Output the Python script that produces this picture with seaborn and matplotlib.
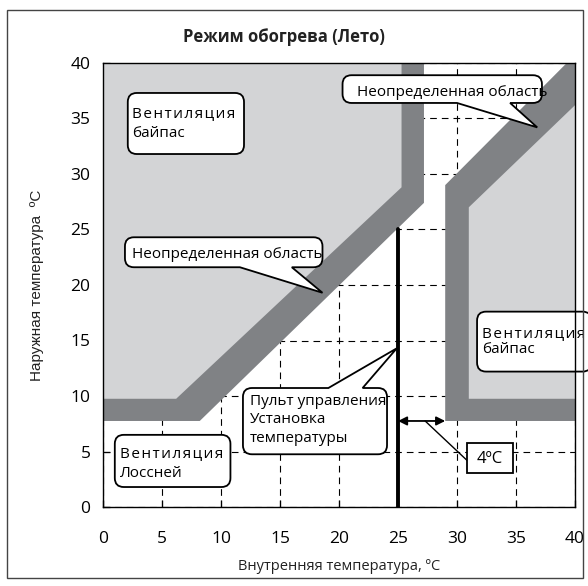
import matplotlib
matplotlib.use("Agg")
import matplotlib.pyplot as plt
from matplotlib.path import Path
from matplotlib.patches import PathPatch, Rectangle
import seaborn as sns

sns.set_theme(style="white")
plt.rcParams["font.family"] = ["Open Sans", "DejaVu Sans"]

# Temperature scale, °C
ticks = [0, 5, 10, 15, 20, 25, 30, 35, 40]
tick_labels = [str(t) for t in ticks]

# Set point on the remote controller and the dead band to the right of it
setpoint = 25
deadband = 4
setpoint_x = [setpoint, setpoint]
setpoint_y = [0, 25]

# Left zone: bypass ventilation (light) inside an undefined band (dark)
bypass_left_x = [0, 25.3, 25.3, 6.2, 0]
bypass_left_y = [40, 40, 28.8, 9.75, 9.75]
undef_left_x = [0, 27.2, 27.2, 8.2, 0]
undef_left_y = [40, 40, 27.4, 7.75, 7.75]

# Right zone: starts at set point + dead band
undef_right_x = [setpoint + deadband, 40, 40, 39.3, setpoint + deadband]
undef_right_y = [7.75, 7.75, 40, 40, 29.0]
bypass_right_x = [31.0, 40, 40, 31.0]
bypass_right_y = [9.75, 9.75, 36.2, 27.0]

LIGHT = "#d3d4d6"
DARK = "#808285"

fig = plt.figure(figsize=(5.88, 5.86), dpi=100)
ax = fig.add_axes([103 / 588, 1 - 507 / 586, 472 / 588, 444 / 586])

ax.set_xlim(0, 40)
ax.set_ylim(0, 40)
ax.set_xticks(ticks, tick_labels)
ax.set_yticks(ticks, tick_labels)
ax.set_axisbelow(True)
ax.grid(True, color="black", linestyle=(0, (6, 4.5)), linewidth=0.8)

ax.fill(undef_left_x, undef_left_y, color=DARK, lw=0, zorder=1)
ax.fill(bypass_left_x, bypass_left_y, color=LIGHT, lw=0, zorder=1.1)
ax.fill(undef_right_x, undef_right_y, color=DARK, lw=0, zorder=1)
ax.fill(bypass_right_x, bypass_right_y, color=LIGHT, lw=0, zorder=1.1)

# Dead band arrow and its label
ax.annotate("", xy=(setpoint, 7.75), xytext=(setpoint + deadband, 7.75),
            arrowprops=dict(arrowstyle="<|-|>", color="black", lw=1.3,
                            shrinkA=0, shrinkB=0, mutation_scale=13),
            zorder=3)
ax.plot([27.3, 30.85], [7.75, 4.2], color="black", lw=1.0, zorder=3)
ax.add_patch(Rectangle((30.85, 3.06), 3.9, 2.71, facecolor="white",
                       edgecolor="black", lw=1.3, zorder=5))
ax.text(32.8, 4.35, f"{deadband}ºC", ha="center", va="center",
        fontsize=12, color="black", zorder=6)

sns.lineplot(x=setpoint_x, y=setpoint_y, color="black", linewidth=2.8,
             ax=ax, zorder=4, sort=False, estimator=None)

for s in ax.spines.values():
    s.set_color("black")
    s.set_linewidth(1.0)
    s.set_zorder(7)

ax.tick_params(direction="in", length=5, width=0.9, colors="black",
               labelsize=12.5, bottom=True, left=True)
ax.tick_params(axis="x", pad=17)
ax.tick_params(axis="y", pad=9)

ax.set_xlabel("Внутренняя температура, ºC", fontsize=10.5, labelpad=9,
              color="#222222")
ax.set_ylabel("Наружная температура  ºC", fontsize=11, labelpad=19,
              color="#222222", family=["Liberation Sans", "DejaVu Sans"])

fig.text(284 / 588, 1 - 37 / 586, "Режим обогрева (Лето)", ha="center",
         va="center", fontsize=12, fontweight="bold", color="#222222")

fig.patches.append(Rectangle((7 / 588, 8 / 586), 576 / 588, 568 / 586,
                             transform=fig.transFigure, fill=False,
                             edgecolor="#444444", lw=1.0))


def spaced(word):
    return "\u200a".join(word)


def bubble(box, tip=None, base=None, side=None, radius=9):
    x0, y0, x1, y1 = box
    o = ax.transData.transform((0, 0))
    u = ax.transData.transform((1, 1))
    rx = radius / (u[0] - o[0])
    ry = radius / (u[1] - o[1])
    verts = [(x0 + rx, y0)]
    codes = [Path.MOVETO]

    def line(p):
        verts.append(p)
        codes.append(Path.LINETO)

    def corner(c, p):
        verts.extend([c, p])
        codes.extend([Path.CURVE3, Path.CURVE3])

    if side == "bottom":
        line((base[0], y0)); line(tip); line((base[1], y0))
    line((x1 - rx, y0)); corner((x1, y0), (x1, y0 + ry))
    line((x1, y1 - ry)); corner((x1, y1), (x1 - rx, y1))
    if side == "top":
        line((base[1], y1)); line(tip); line((base[0], y1))
    line((x0 + rx, y1)); corner((x0, y1), (x0, y1 - ry))
    line((x0, y0 + ry)); corner((x0, y0), (x0 + rx, y0))
    verts.append((x0 + rx, y0))
    codes.append(Path.CLOSEPOLY)
    ax.add_patch(PathPatch(Path(verts, codes), facecolor="white",
                           edgecolor="black", lw=1.3, zorder=5,
                           clip_on=False))


def label(x, y, s, **kw):
    ax.text(x, y, s, fontsize=11, color="black", ha="left", va="baseline",
            zorder=6, clip_on=False, **kw)


# Top-left: bypass ventilation
bubble((2.1, 31.8, 11.95, 37.3))
label(2.5, 35.1, spaced("Вентиляция"))
label(2.5, 33.3, "байпас")

# Undefined area, left band
bubble((1.86, 21.6, 18.6, 24.3), tip=(18.6, 19.3), base=(11.6, 16.0),
       side="bottom")
label(2.5, 22.4, "Неопределенная область")

# Undefined area, right band
bubble((20.3, 36.4, 37.2, 38.9), tip=(36.8, 34.2), base=(30.0, 34.5),
       side="bottom")
label(21.5, 37.05, "Неопределенная область")

# Remote controller set point
bubble((11.86, 4.75, 24.07, 10.72), tip=(24.9, 14.3), base=(19.1, 22.0),
       side="top")
label(12.45, 9.2, "Пульт управления")
label(12.45, 7.55, "Установка")
label(12.45, 5.85, "температуры")

# Right: bypass ventilation
bubble((31.7, 12.2, 41.4, 17.6))
label(32.1, 15.3, spaced("Вентиляция"))
label(32.1, 13.85, "байпас")

# Bottom-left: Lossnay ventilation
bubble((1.0, 1.8, 10.8, 6.5))
label(1.45, 4.5, spaced("Вентиляция"))
label(1.45, 2.7, "Лоссней")

fig.savefig("out.png", dpi=100)
